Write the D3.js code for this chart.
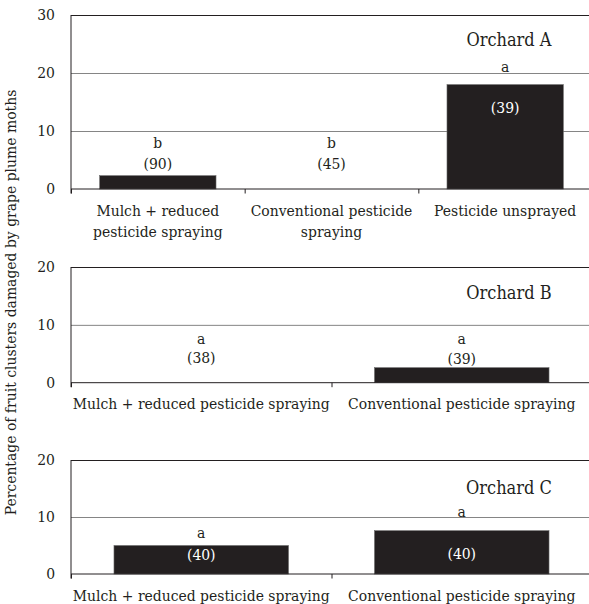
<!DOCTYPE html>
<html>
<head>
<meta charset="utf-8">
<script src="https://cdn.jsdelivr.net/npm/d3@7"></script>
<style>
body { margin: 0; background: #fff; }
svg text { fill: #231f20; font-stretch: condensed; }
</style>
</head>
<body>
<script>
// Orchard A
const treatmentsA = [['Mulch + reduced', 'pesticide spraying'], ['Conventional pesticide', 'spraying'], ['Pesticide unsprayed']];
const damageA = [2.3, 0, 18];
const lettersA = ['b', 'b', 'a'];
const countsA = [90, 45, 39];
const letterAtA = [7.1, 7.1, 20.2];
const countAtA = [3.45, 3.45, 13.1];
const ticksA = [0, 10, 20, 30];

// Orchard B
const treatmentsB = [['Mulch + reduced pesticide spraying'], ['Conventional pesticide spraying']];
const damageB = [0, 2.6];
const lettersB = ['a', 'a'];
const countsB = [38, 39];
const letterAtB = [6.7, 6.7];
const countAtB = [3.4, 3.3];
const ticksB = [0, 10, 20];

// Orchard C
const treatmentsC = [['Mulch + reduced pesticide spraying'], ['Conventional pesticide spraying']];
const damageC = [5.0, 7.6];
const lettersC = ['a', 'a'];
const countsC = [40, 40];
const letterAtC = [6.3, 9.95];
const countAtC = [2.5, 2.6];
const ticksC = [0, 10, 20];

const yTitle = 'Percentage of fruit clusters damaged by grape plume moths';

const width = 589;
const height = 604;
const left = 71;
const right = 592;
const serif = '"DejaVu Serif Condensed", "DejaVu Serif", serif';
const fs = 15.5;

const panels = [
    { title: 'Orchard A', cats: treatmentsA, values: damageA, letters: lettersA, counts: countsA, letterAt: letterAtA, countAt: countAtA, ticks: ticksA, top: 15, bottom: 189, titleY: 45.7 },
    { title: 'Orchard B', cats: treatmentsB, values: damageB, letters: lettersB, counts: countsB, letterAt: letterAtB, countAt: countAtB, ticks: ticksB, top: 267, bottom: 382.7, titleY: 299 },
    { title: 'Orchard C', cats: treatmentsC, values: damageC, letters: lettersC, counts: countsC, letterAt: letterAtC, countAt: countAtC, ticks: ticksC, top: 460, bottom: 574, titleY: 494 }
];

const svg = d3.select('body').append('svg')
    .attr('width', width).attr('height', height)
    .attr('font-family', serif);

panels.forEach(p => {
    const n = p.values.length;
    const yMax = d3.max(p.ticks);
    const x = d3.scaleBand().domain(d3.range(n)).range([left, right]).paddingInner(0.33).paddingOuter(0.165);
    const slots = d3.scaleLinear().domain([0, n]).range([left, right]);
    const y = d3.scaleLinear().domain([0, yMax]).range([p.bottom, p.top]);

    const g = svg.append('g');

    // gridlines + tick labels
    const yAxis = g.append('g')
        .attr('transform', `translate(${left},0)`)
        .call(d3.axisLeft(y).tickValues(p.ticks).tickSize(-(right - left)).tickPadding(16));
    yAxis.attr('font-family', serif);
    yAxis.select('.domain').remove();
    yAxis.selectAll('.tick line')
        .attr('stroke', d => d === yMax ? '#231f20' : '#858585')
        .attr('stroke-width', 1)
        .attr('opacity', d => d === 0 ? 0 : 1);
    yAxis.selectAll('.tick text')
        .style('font-size', fs + 'px')
        .attr('fill', '#231f20');

    // left border
    g.append('line')
        .attr('x1', left).attr('x2', left)
        .attr('y1', y(yMax)).attr('y2', y(0) + 4.5)
        .attr('stroke', '#231f20');

    // bars
    g.selectAll('rect')
        .data(p.values)
        .enter().append('rect')
        .attr('x', (d, i) => x(i))
        .attr('width', x.bandwidth())
        .attr('y', d => y(d))
        .attr('height', d => y(0) - y(d))
        .attr('fill', '#231f20')
        .attr('stroke', '#6a6a6a')
        .attr('stroke-width', 0.6);

    // x axis with ticks between categories
    const xAxis = g.append('g')
        .attr('transform', `translate(0,${y(0)})`)
        .call(d3.axisBottom(slots).tickValues(d3.range(n + 1)).tickSize(4.5).tickFormat(''));
    xAxis.select('.domain').attr('stroke', '#231f20').attr('d', `M${left},0H${right}`);
    xAxis.selectAll('.tick line').attr('stroke', '#231f20');

    // category labels
    p.cats.forEach((lines, i) => {
        const t = g.append('text')
            .attr('x', x(i) + x.bandwidth() / 2)
            .attr('y', y(0) + 26.5)
            .attr('text-anchor', 'middle')
            .style('font-size', fs + 'px');
        lines.forEach((line, k) => {
            t.append('tspan')
                .attr('x', x(i) + x.bandwidth() / 2)
                .attr('dy', k === 0 ? 0 : 21)
                .text(line);
        });
    });

    // significance letters
    g.selectAll('.letter')
        .data(p.letters)
        .enter().append('text')
        .attr('class', 'letter')
        .attr('x', (d, i) => x(i) + x.bandwidth() / 2)
        .attr('y', (d, i) => y(p.letterAt[i]))
        .attr('text-anchor', 'middle')
        .style('font-size', fs + 'px')
        .text(d => d);

    // sample sizes
    g.selectAll('.count')
        .data(p.counts)
        .enter().append('text')
        .attr('class', 'count')
        .attr('x', (d, i) => x(i) + x.bandwidth() / 2)
        .attr('y', (d, i) => y(p.countAt[i]))
        .attr('text-anchor', 'middle')
        .style('font-size', fs + 'px')
        .style('fill', (d, i) => p.countAt[i] < p.values[i] ? '#ffffff' : '#231f20')
        .text(d => `(${d})`);

    // panel title
    g.append('text')
        .attr('x', 509)
        .attr('y', p.titleY)
        .attr('text-anchor', 'middle')
        .style('font-size', '18px')
        .text(p.title);
});

svg.append('text')
    .attr('transform', 'translate(15.5,302.5) rotate(-90)')
    .attr('text-anchor', 'middle')
    .style('font-size', fs + 'px')
    .text(yTitle);
</script>
</body>
</html>
